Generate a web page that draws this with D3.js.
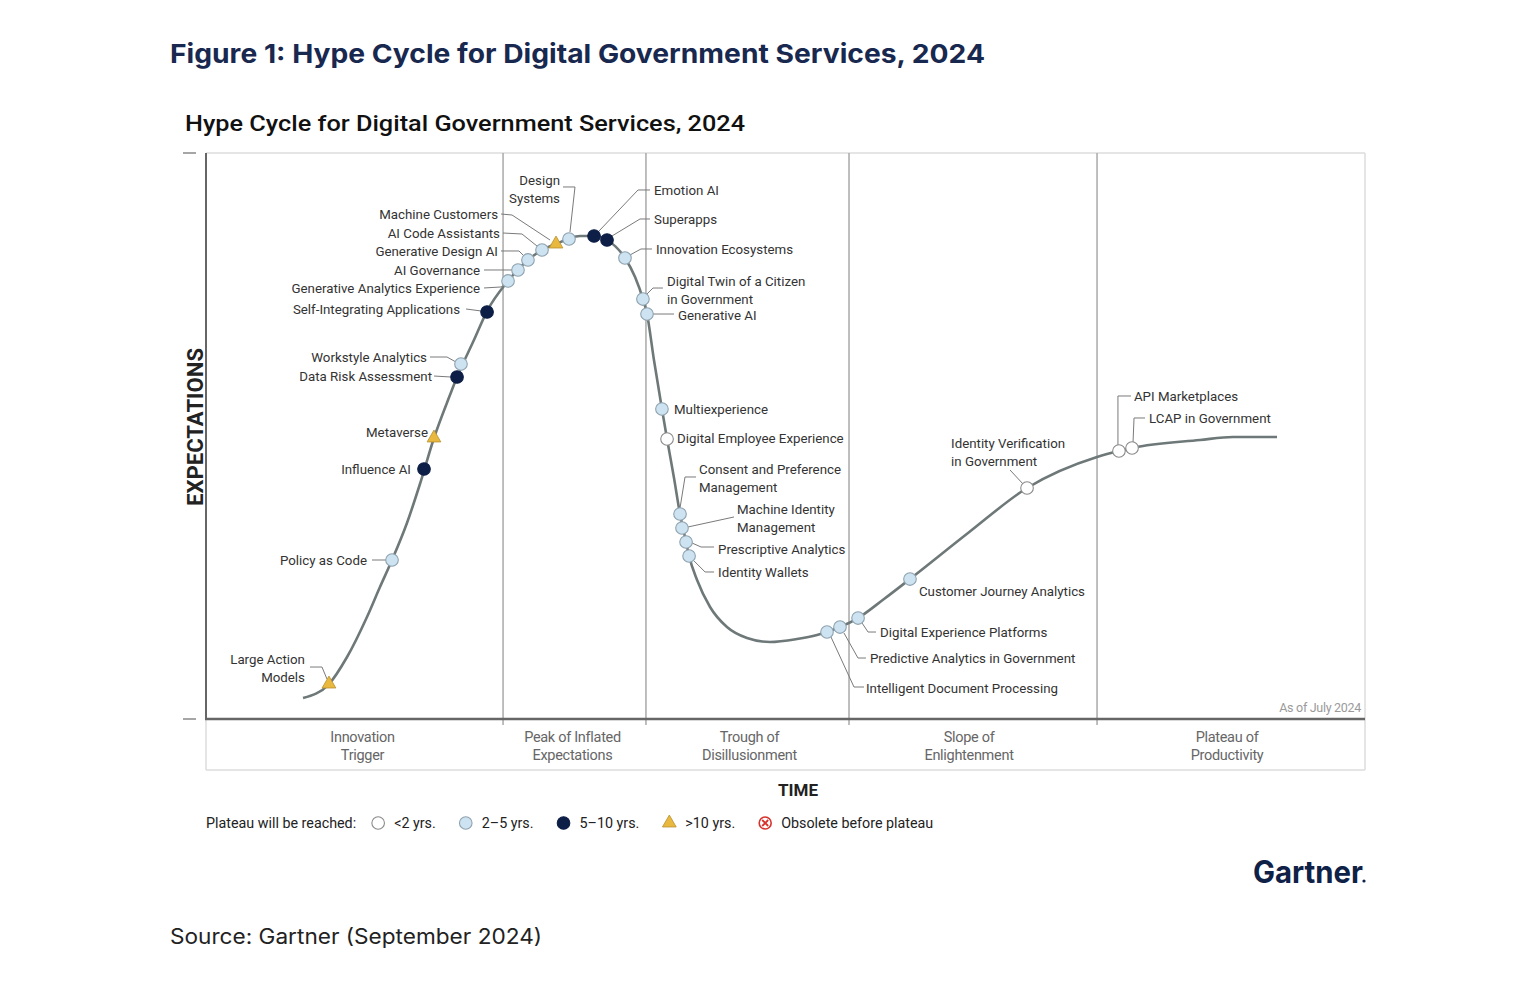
<!DOCTYPE html>
<html><head><meta charset="utf-8">
<script src="https://cdn.jsdelivr.net/npm/d3@7"></script>
<style>body{margin:0;background:#fff;} svg{display:block;}</style>
</head><body><svg id="c" width="1526" height="986"></svg>
<script>
// ---------- DATA ----------
const phaseNames = ["Innovation\nTrigger", "Peak of Inflated\nExpectations", "Trough of\nDisillusionment", "Slope of\nEnlightenment", "Plateau of\nProductivity"];
const phaseBounds = [0, 25.63, 37.96, 55.48, 76.88, 100];

const curveTime   = [8.37,10.61,12.17,13.89,15.01,16.05,17.34,18.46,19.67,21.05,21.66,23.12,24.25,26.06,27.78,28.99,30.20,31.23,32.27,33.48,34.60,36.15,37.02,37.70,38.05,38.65,39.34,39.78,40.38,40.90,41.42,41.68,42.37,43.49,44.95,46.68,48.66,50.99,52.72,53.58,54.70,56.26,58.50,60.74,65.75,70.84,76.88,78.77,79.90,85.76,88.61,92.41];
const curveExpect = [3.71,6.18,10.95,18.02,23.32,28.09,34.63,41.52,49.65,57.24,60.42,66.96,72.08,77.39,81.10,82.86,83.92,84.81,85.34,85.34,84.63,81.45,78.09,74.20,71.55,63.43,54.77,49.47,42.58,36.22,31.27,28.80,24.56,19.79,16.25,14.31,13.60,14.13,14.84,15.37,16.25,17.84,21.20,24.73,32.86,40.81,46.29,47.35,47.88,49.29,49.82,49.82];

const techNames = ["Large Action\nModels","Policy as Code","Influence AI","Metaverse","Data Risk Assessment","Workstyle Analytics","Self-Integrating Applications","Generative Analytics Experience","AI Governance","Generative Design AI","AI Code Assistants","Machine Customers","Design\nSystems","Emotion AI","Superapps","Innovation Ecosystems","Digital Twin of a Citizen\nin Government","Generative AI","Multiexperience","Digital Employee Experience","Consent and Preference\nManagement","Machine Identity\nManagement","Prescriptive Analytics","Identity Wallets","Intelligent Document Processing","Predictive Analytics in Government","Digital Experience Platforms","Customer Journey Analytics","Identity Verification\nin Government","API Marketplaces","LCAP in Government"];
const techTime   = [10.61,16.05,18.81,19.67,21.66,22.00,24.25,26.06,26.92,27.78,28.99,30.20,31.32,33.48,34.60,36.15,37.70,38.05,39.34,39.78,40.90,41.07,41.42,41.68,53.58,54.70,56.26,60.74,70.84,78.77,79.90];
const techExpect = [6.18,28.09,44.17,49.65,60.42,62.72,71.91,77.39,79.33,81.10,82.86,83.92,84.81,85.34,84.63,81.45,74.20,71.55,54.77,49.47,36.22,33.75,31.27,28.80,15.37,16.25,17.84,24.73,40.81,47.35,47.88];
const techMaturity = ["gt10","2-5","5-10","gt10","5-10","2-5","5-10","2-5","2-5","2-5","2-5","gt10","2-5","5-10","5-10","2-5","2-5","2-5","2-5","lt2","2-5","2-5","2-5","2-5","2-5","2-5","2-5","2-5","lt2","lt2","lt2"];

const legendKeys   = ["lt2","2-5","5-10","gt10","obsolete"];
const legendLabels = ["<2 yrs.","2–5 yrs.","5–10 yrs.",">10 yrs.","Obsolete before plateau"];

// ---------- LABEL LAYOUT (pixel offsets from each marker) ----------
const labelLayout = [
 {a:"end",dx:-24,dy:-25,l:[[-19,-17],[-7,-17],[-2,-5]]},
 {a:"end",dx:-25,dy:0,l:[[-20,0],[-6,0]]},
 {a:"end",dx:-13,dy:0,l:[]},
 {a:"end",dx:-6,dy:-6,l:[]},
 {a:"end",dx:-25,dy:-1,l:[[-23,-1],[-6,0]]},
 {a:"end",dx:-34,dy:-7,l:[[-31,-7],[-14,-7],[-5,-2]]},
 {a:"end",dx:-27,dy:-3,l:[[-21,-3],[-6,-1]]},
 {a:"end",dx:-28,dy:7,l:[[-24,7],[-7,6],[-4,4]]},
 {a:"end",dx:-38,dy:0,l:[[-34,0],[-6,0]]},
 {a:"end",dx:-30,dy:-9,l:[[-27,-9],[-9,-9],[-4,-4]]},
 {a:"end",dx:-42,dy:-17,l:[[-39,-17],[-20,-16],[-5,-4]]},
 {a:"end",dx:-58,dy:-30,l:[[-55,-30],[-44,-29],[-6,-4]]},
 {a:"end",dx:-9,dy:-59,l:[[-6,-52],[6,-52],[1,-7]]},
 {a:"start",dx:60,dy:-46,l:[[56,-46],[44,-46],[5,-5]]},
 {a:"start",dx:47,dy:-21,l:[[43,-21],[33,-21],[5,-4]]},
 {a:"start",dx:31,dy:-9,l:[[27,-9],[16,-9],[5,-3]]},
 {a:"start",dx:24,dy:-18,l:[[20,-11],[10,-11],[4,-5]]},
 {a:"start",dx:31,dy:1,l:[[27,0],[6,0]]},
 {a:"start",dx:12,dy:0,l:[]},
 {a:"start",dx:10,dy:-1,l:[]},
 {a:"start",dx:19,dy:-45,l:[[16,-37],[5,-37],[0,-6]]},
 {a:"start",dx:55,dy:-19,l:[[52,-11],[6,-1]]},
 {a:"start",dx:32,dy:7,l:[[28,5],[15,5],[6,1]]},
 {a:"start",dx:29,dy:16,l:[[25,16],[16,16],[5,5]]},
 {a:"start",dx:39,dy:56,l:[[37,55],[27,55],[4,5]]},
 {a:"start",dx:30,dy:31,l:[[26,31],[18,31],[4,6]]},
 {a:"start",dx:22,dy:14,l:[[18,14],[10,14],[4,5]]},
 {a:"start",dx:9,dy:12,l:[]},
 {a:"start",dx:-76,dy:-45,l:[[-17,-18],[-4,-4]]},
 {a:"start",dx:15,dy:-55,l:[[12,-55],[-1,-55],[-1,-6]]},
 {a:"start",dx:17,dy:-30,l:[[13,-30],[2,-30],[1,-6]]}
];
const phaseLabelShift = [8,-2,2,-4,-4];

// ---------- DRAW ----------
const svg = d3.select("#c");
const F = "Roboto, 'Noto Sans', sans-serif";
const L = 206, R = 1365, T = 153, B = 719, BOX = 770;
const x = d3.scaleLinear().domain([0,100]).range([L,R]);
const y = d3.scaleLinear().domain([0,100]).range([B,T]);

// titles
svg.append("text").attr("x",170).attr("y",63).attr("font-family","Inter, Roboto, sans-serif")
  .attr("font-weight",700).attr("font-size",26).attr("fill","#18284f")
  .attr("textLength",815).attr("lengthAdjust","spacingAndGlyphs")
  .text("Figure 1: Hype Cycle for Digital Government Services, 2024");
svg.append("text").attr("x",185).attr("y",131).attr("font-family",F)
  .attr("font-weight",500).attr("font-size",22).attr("fill","#111")
  .attr("textLength",560).attr("lengthAdjust","spacingAndGlyphs")
  .text("Hype Cycle for Digital Government Services, 2024");

// frame
const g = svg.append("g");
g.append("line").attr("x1",L).attr("x2",R).attr("y1",T).attr("y2",T).attr("stroke","#dcdcdc").attr("stroke-width",1.5);
g.append("line").attr("x1",R).attr("x2",R).attr("y1",T).attr("y2",BOX).attr("stroke","#dcdcdc").attr("stroke-width",1.5);
g.append("line").attr("x1",L).attr("x2",R).attr("y1",BOX).attr("y2",BOX).attr("stroke","#dcdcdc").attr("stroke-width",1.5);
g.append("line").attr("x1",L).attr("x2",L).attr("y1",B).attr("y2",BOX).attr("stroke","#dcdcdc").attr("stroke-width",1.5);

// phase separators
g.selectAll(".sep").data(phaseBounds.slice(1,-1)).join("line")
  .attr("x1",d=>x(d)).attr("x2",d=>x(d)).attr("y1",T).attr("y2",B+6)
  .attr("stroke","#a9a9a9").attr("stroke-width",1.5);

// axes
g.append("line").attr("x1",L).attr("x2",L).attr("y1",T).attr("y2",B).attr("stroke","#666").attr("stroke-width",2);
g.append("line").attr("x1",L-1).attr("x2",R).attr("y1",B).attr("y2",B).attr("stroke","#666").attr("stroke-width",2.5);
[100,0].forEach(v=>g.append("line").attr("x1",183).attr("x2",196).attr("y1",y(v)).attr("y2",y(v)).attr("stroke","#888").attr("stroke-width",1.5));

// phase labels
phaseNames.forEach((p,i)=>{
  const cx = (x(phaseBounds[i])+x(phaseBounds[i+1]))/2 + phaseLabelShift[i];
  p.split("\n").forEach((ln,j)=>{
    g.append("text").attr("x",cx).attr("y",737+j*18).attr("dy","0.35em").attr("text-anchor","middle")
      .attr("font-family",F).attr("font-size",14.5).attr("letter-spacing",-0.3).attr("fill","#666").text(ln);
  });
});

svg.append("text").attr("x",1361).attr("y",708).attr("dy","0.35em").attr("text-anchor","end")
  .attr("font-family",F).attr("font-size",12.5).attr("letter-spacing",-0.3).attr("fill","#9a9a9a").text("As of July 2024");

// axis titles
svg.append("text").attr("transform","translate(195,427) rotate(-90)").attr("dy","0.35em").attr("text-anchor","middle")
  .attr("font-family",F).attr("font-weight",700).attr("font-size",22).attr("fill","#222")
  .attr("textLength",158).attr("lengthAdjust","spacingAndGlyphs").text("EXPECTATIONS");
svg.append("text").attr("x",798).attr("y",790).attr("dy","0.35em").attr("text-anchor","middle")
  .attr("font-family",F).attr("font-weight",700).attr("font-size",17).attr("fill","#222").text("TIME");

// curve
const pts = curveTime.map((t,i)=>[t,curveExpect[i]]);
g.append("path").datum(pts)
  .attr("d",d3.line().x(d=>x(d[0])).y(d=>y(d[1])).curve(d3.curveMonotoneX))
  .attr("fill","none").attr("stroke","#6e7878").attr("stroke-width",2.6);

// styles for markers
const mStyle = {
  "lt2":  {fill:"#ffffff", stroke:"#8a8a8a"},
  "2-5":  {fill:"#cde3f1", stroke:"#8fa2af"},
  "5-10": {fill:"#0e1f47", stroke:"#0e1f47"},
  "gt10": {fill:"#e8b83f", stroke:"#b89030"}
};
function drawMarker(sel, key, cx, cy){
  if(key==="gt10"){
    sel.append("path").attr("d",d3.symbol(d3.symbolTriangle,82)())
      .attr("transform",`translate(${cx},${cy})`).attr("fill",mStyle[key].fill).attr("stroke",mStyle[key].stroke).attr("stroke-width",0.8);
  } else if(key==="obsolete"){
    sel.append("circle").attr("cx",cx).attr("cy",cy).attr("r",6).attr("fill","#fff").attr("stroke","#d7332c").attr("stroke-width",1.6);
    sel.append("path").attr("d",`M${cx-3},${cy-3}L${cx+3},${cy+3}M${cx+3},${cy-3}L${cx-3},${cy+3}`).attr("stroke","#d7332c").attr("stroke-width",1.8);
  } else {
    sel.append("circle").attr("cx",cx).attr("cy",cy).attr("r",6.3)
      .attr("fill",mStyle[key].fill).attr("stroke",mStyle[key].stroke).attr("stroke-width",1.1);
  }
}

// leaders & labels
const labG = g.append("g"), mkG = g.append("g");
techNames.forEach((name,i)=>{
  const mx = x(techTime[i]), my = y(techExpect[i]);
  const lay = labelLayout[i];
  if(lay.l.length){
    labG.append("path").attr("d",d3.line()(lay.l.map(p=>[mx+p[0],my+p[1]])))
      .attr("fill","none").attr("stroke","#7a7a7a").attr("stroke-width",1);
  }
  name.split("\n").forEach((ln,j)=>{
    labG.append("text").attr("x",mx+lay.dx).attr("y",my+lay.dy+j*18).attr("dy","0.35em")
      .attr("text-anchor",lay.a).attr("font-family",F).attr("font-size",13.3)
      .attr("fill","#333").text(ln);
  });
  drawMarker(mkG, techMaturity[i], mx, my);
});

// legend
const lg = svg.append("g");
const ly = 823;
const lead = lg.append("text").attr("x",206).attr("y",ly).attr("dy","0.35em").attr("font-family",F)
  .attr("font-size",14.3).attr("fill","#222").text("Plateau will be reached:");
let cursor = 206 + lead.node().getComputedTextLength() + 22;
legendKeys.forEach((k,i)=>{
  drawMarker(lg, k, cursor, ly);
  const t = lg.append("text").attr("x",cursor+16).attr("y",ly).attr("dy","0.35em").attr("font-family",F)
    .attr("font-size",14.3).attr("fill","#222").text(legendLabels[i]);
  cursor = cursor + 16 + t.node().getComputedTextLength() + 30;
});

// logo + source
svg.append("text").attr("x",1253).attr("y",883).attr("font-family","Inter, Roboto, sans-serif")
  .attr("font-weight",700).attr("font-size",31).attr("fill","#0f2147")
  .attr("textLength",110).attr("lengthAdjust","spacingAndGlyphs").text("Gartner");
svg.append("circle").attr("cx",1364).attr("cy",881).attr("r",1.6).attr("fill","#0f2147");
svg.append("text").attr("x",170).attr("y",944).attr("font-family","Inter, Roboto, sans-serif")
  .attr("font-size",21).attr("fill","#222").attr("textLength",372).attr("lengthAdjust","spacingAndGlyphs")
  .text("Source: Gartner (September 2024)");
</script></body></html>
